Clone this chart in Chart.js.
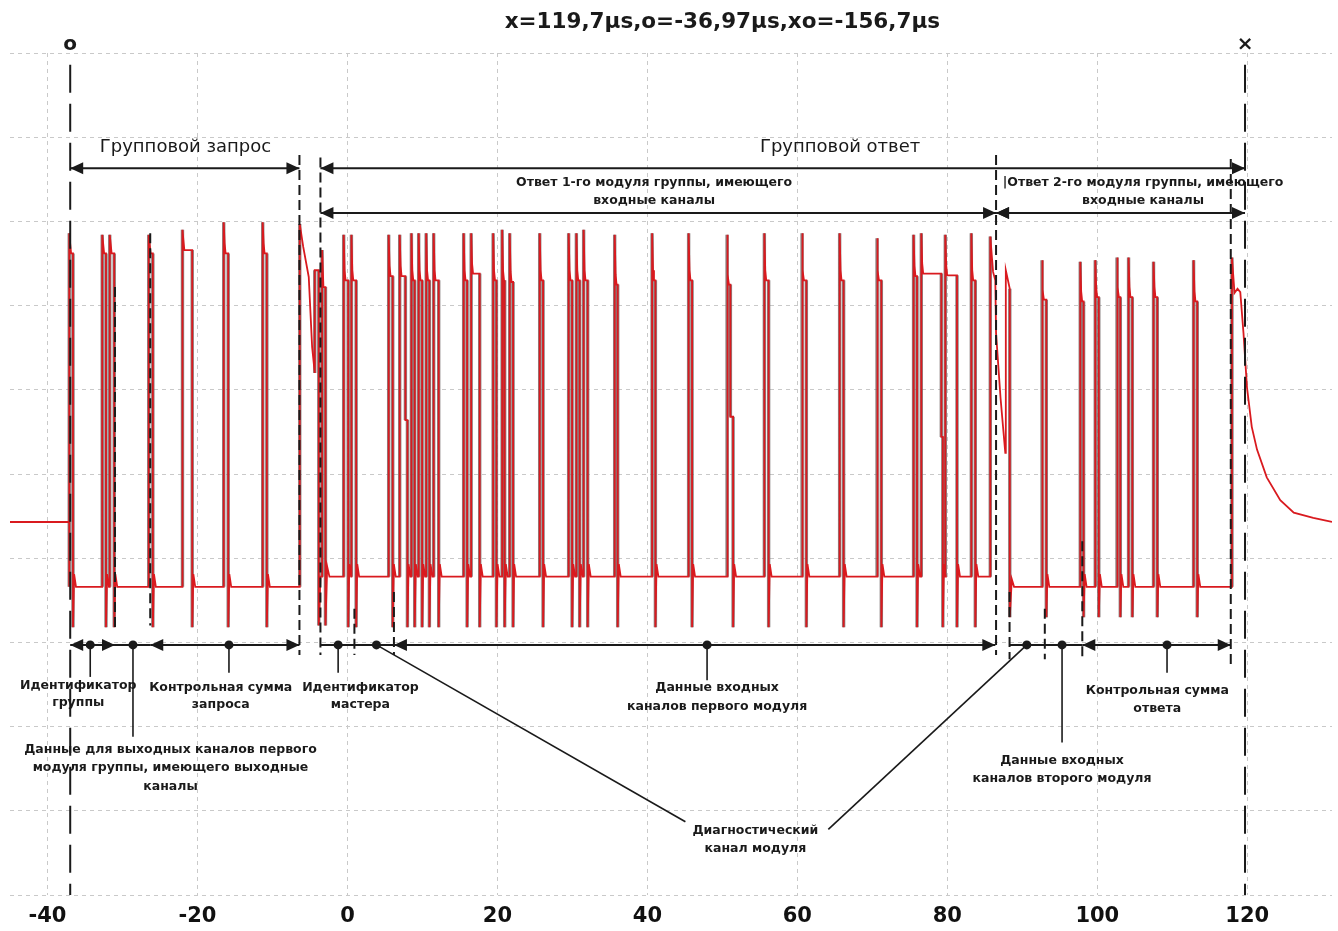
<!DOCTYPE html>
<html>
<head>
<meta charset="utf-8">
<script src="https://cdn.jsdelivr.net/npm/chart.js@4.4.1/dist/chart.umd.min.js"></script>
<style>
  html, body { margin: 0; padding: 0; background: #fff; }
  #wrap { width: 1338px; height: 931px; }
</style>
</head>
<body>
<div id="wrap"><canvas id="scope"></canvas></div>
<script>
// time axis in µs, vertical axis in screen divisions (0..10)
const tickLabels = [-40, -20, 0, 20, 40, 60, 80, 100, 120];
const titleText = 'x=119,7µs,o=-36,97µs,xo=-156,7µs';

// idle line before the request
const idleTimes = [-45, -37.1];
const idleLevels = [4.43, 4.43];

// ordinary pulses: rise / fall time, first peak, settled top
const riseTimes = [-37.1, -32.7, -31.7, -26.5, -22.0, -16.5, -11.3,
  -0.5, 0.53, 5.5, 6.97, 8.53, 9.5, 10.5, 11.5, 15.5, 16.5, 19.43, 20.63, 21.64,
  25.64, 29.5, 30.53, 31.5, 35.64, 40.63, 45.5, 50.63, 55.6, 60.63, 65.64, 70.63,
  75.5, 76.53, 79.73, 83.2,
  92.63, 97.73, 99.73, 102.63, 104.17, 107.5, 112.84];
const fallTimes = [-36.6, -32.2, -31.1, -25.95, -20.7, -15.9, -10.75,
  0.1, 1.16, 6.04, 7.73, 8.97, 9.96, 10.93, 12.17, 15.96, 17.64, 19.87, 20.97, 22.09,
  26.09, 29.96, 30.97, 32.04, 36.04, 41.07, 45.96, 51.07, 56.17, 61.2, 66.17, 71.2,
  75.96, 79.2, 81.29, 83.73,
  93.2, 98.17, 100.2, 103.07, 104.67, 108.0, 113.33];
const peakLevels = [7.86, 7.84, 7.84, 7.84, 7.9, 7.99, 7.99,
  7.84, 7.84, 7.84, 7.84, 7.86, 7.86, 7.86, 7.86, 7.86, 7.86, 7.86, 7.9, 7.86,
  7.86, 7.86, 7.86, 7.9, 7.84, 7.86, 7.86, 7.84, 7.86, 7.86, 7.86, 7.8,
  7.84, 7.86, 7.84, 7.86,
  7.54, 7.52, 7.54, 7.57, 7.57, 7.52, 7.54];
const topLevels = [7.62, 7.62, 7.62, 7.62, 7.66, 7.62, 7.62,
  7.3, 7.3, 7.35, 7.35, 7.3, 7.3, 7.3, 7.3, 7.3, 7.38, 7.3, 7.3, 7.28,
  7.3, 7.3, 7.3, 7.3, 7.25, 7.3, 7.3, 7.25, 7.3, 7.3, 7.3, 7.3,
  7.35, 7.38, 7.36, 7.3,
  7.07, 7.05, 7.1, 7.1, 7.1, 7.1, 7.05];

// pulses that fall in two steps
const stepRise = [6.97, 50.63, 76.53];
const stepLevel = [5.64, 5.68, 5.44];
const stepEnd = [8.0, 51.43, 79.4];

// low level and undershoot of each part: request, reply 1, reply 2
const sectionEnd = [-6.4, 86.5, 131.3];
const sectionLow = [3.66, 3.78, 3.66];
const sectionDip = [3.18, 3.18, 3.30];

// bus turnaround after the request
const turnTimes = [-6.36, -6.36, -5.9, -5.16, -4.71, -4.36, -4.36, -3.82, -3.82, -3.6, -3.38, -3.38, -3.2, -2.93, -2.93, -2.7, -2.4];
const turnLevels = [3.66, 7.97, 7.7, 7.34, 6.51, 6.2, 7.42, 7.42, 3.2, 3.78, 3.78, 7.66, 7.22, 7.22, 3.2, 3.9, 3.78];

// end of reply 1 / start of reply 2
const handoverTimes = [85.73, 85.73, 86.1, 86.4, 86.5, 87.1, 87.73, 87.8, 88.33, 88.33, 88.6, 88.9];
const handoverLevels = [3.78, 7.82, 7.4, 7.3, 6.67, 5.9, 5.25, 7.42, 7.2, 3.3, 3.75, 3.66];

// last pulse and release of the line
const tailTimes = [117.96, 117.96, 118.3, 118.7, 119.07, 119.5, 119.96, 120.6, 121.3, 122.6, 124.4, 126.2, 128.8, 131.3];
const tailLevels = [3.66, 7.57, 7.15, 7.2, 7.16, 6.67, 6.03, 5.56, 5.29, 4.96, 4.69, 4.54, 4.48, 4.43];

function zip(ts, vs) { return ts.map((t, i) => ({ x: t, y: vs[i] })); }
function sectionOf(t) { let s = 0; while (s < sectionEnd.length - 1 && t > sectionEnd[s]) s++; return s; }

function buildTrace() {
  const events = [];
  events.push({ t: idleTimes[0], pts: zip(idleTimes, idleLevels) });
  riseTimes.forEach((r, i) => {
    const f = fallTimes[i];
    const s = sectionOf(r);
    const low = sectionLow[s], dip = sectionDip[s];
    const pts = [
      { x: r, y: low }, { x: r, y: peakLevels[i] },
      { x: r + 0.12, y: topLevels[i] + 0.12 }, { x: r + 0.25, y: topLevels[i] },
      { x: f, y: topLevels[i] }
    ];
    let end = f;
    const k = stepRise.indexOf(r);
    if (k >= 0) {
      pts.push({ x: f, y: stepLevel[k] }, { x: stepEnd[k], y: stepLevel[k] });
      end = stepEnd[k];
    }
    pts.push({ x: end, y: dip }, { x: end + 0.15, y: low + 0.15 }, { x: end + 0.4, y: low });
    events.push({ t: r, pts });
  });
  events.push({ t: turnTimes[0], pts: zip(turnTimes, turnLevels) });
  events.push({ t: handoverTimes[0], pts: zip(handoverTimes, handoverLevels) });
  events.push({ t: tailTimes[0], pts: zip(tailTimes, tailLevels) });
  events.sort((a, b) => a.t - b.t);
  return events.flatMap(e => e.pts);
}

const trace = buildTrace();
const FONT = "'DejaVu Sans', sans-serif";
const INK = '#1a1a1a';
const isEdge = c => c.p0.parsed.x === c.p1.parsed.x;

const annotations = {
  id: 'annotations',
  afterDatasetsDraw(chart) {
    const { ctx, scales: { x, y } } = chart;
    const X = t => x.getPixelForValue(t);
    const Y = v => y.getPixelForValue(v);

    function line(x1, y1, x2, y2, w, dash) {
      ctx.save();
      ctx.strokeStyle = INK; ctx.lineWidth = w; ctx.setLineDash(dash || []);
      ctx.beginPath(); ctx.moveTo(x1, y1); ctx.lineTo(x2, y2); ctx.stroke();
      ctx.restore();
    }
    function head(px, py, dir) {
      ctx.save(); ctx.fillStyle = INK; ctx.beginPath();
      ctx.moveTo(px, py); ctx.lineTo(px - dir * 13, py - 6); ctx.lineTo(px - dir * 13, py + 6);
      ctx.closePath(); ctx.fill(); ctx.restore();
    }
    function dot(px, py) {
      ctx.save(); ctx.fillStyle = INK; ctx.beginPath(); ctx.arc(px, py, 4.5, 0, Math.PI * 2); ctx.fill(); ctx.restore();
    }
    function text(str, px, py, font, align) {
      ctx.save(); ctx.fillStyle = INK; ctx.font = font; ctx.textAlign = align || 'center'; ctx.textBaseline = 'middle';
      ctx.fillText(str, px, py); ctx.restore();
    }
    function span(t1, t2, v, arrows) {
      const py = Y(v);
      line(X(t1), py, X(t2), py, 2);
      if (arrows) { head(X(t1), py, -1); head(X(t2), py, 1); }
    }

    // title
    text(titleText, X(50), 22, "bold 21.5px " + FONT);

    // cursors
    [[-36.97, 'o'], [119.7, '×']].forEach(([t, m]) => {
      line(X(t), Y(9.86), X(t), Y(0), 2, [28, 11]);
      text(m, X(t), 45, "bold 20px " + FONT);
    });

    // section borders
    [[-6.4, 8.79, 2.85], [-3.6, 8.76, 2.85], [86.5, 8.79, 2.85], [117.8, 8.74, 2.73],
     [-31.0, 7.22, 3.15], [-26.3, 7.86, 3.2], [0.93, 3.4, 2.85], [6.2, 3.6, 2.85],
     [88.3, 3.6, 2.8], [93.0, 3.4, 2.8], [98.0, 4.2, 2.8]]
      .forEach(([t, v1, v2]) => line(X(t), Y(v1), X(t), Y(v2), 2, [10, 5]));

    // upper spans
    const big = "18px " + FONT, small = "bold 12.5px " + FONT;
    span(-36.97, -6.4, 8.63, true);
    text('Групповой запрос', X(-21.6), Y(8.88), big);
    span(-3.6, 119.7, 8.63, true);
    text('Групповой ответ', X(65.7), Y(8.88), big);
    span(-3.6, 86.5, 8.10, true);
    text('Ответ 1-го модуля группы, имеющего', X(40.9), Y(8.46), small);
    text('входные каналы', X(40.9), Y(8.24), small);
    span(86.5, 119.7, 8.10, true);
    head(X(86.5), Y(8.10), -1);
    text('|Ответ 2-го модуля группы, имеющего', X(106.1), Y(8.46), small);
    text('входные каналы', X(106.1), Y(8.24), small);

    // lower field map
    const fv = 2.97;
    span(-36.97, -31.0, fv, true);
    span(-31.0, -26.3, fv, false);
    span(-26.3, -6.4, fv, true);
    span(-3.6, 6.2, fv, false);
    span(6.2, 86.4, fv, true);
    span(88.3, 98.0, fv, false);
    span(98.0, 117.8, fv, true);

    const dots = [
      { t: -34.3, to: [-34.3, 2.59], lines: ['Идентификатор', 'группы'], lt: -35.9, lv: [2.48, 2.28] },
      { t: -28.6, to: [-28.6, 1.88], lines: ['Данные для выходных каналов первого', 'модуля группы, имеющего выходные', 'каналы'], lt: -23.6, lv: [1.72, 1.51, 1.29] },
      { t: -15.8, to: [-15.8, 2.64], lines: ['Контрольная сумма', 'запроса'], lt: -16.9, lv: [2.46, 2.26] },
      { t: -1.24, to: [-1.24, 2.64], lines: ['Идентификатор', 'мастера'], lt: 1.73, lv: [2.46, 2.26] },
      { t: 3.87, to: [45.07, 0.87], lines: [], lt: 0, lv: [] },
      { t: 47.96, to: [47.96, 2.55], lines: ['Данные входных', 'каналов первого модуля'], lt: 49.3, lv: [2.46, 2.24] },
      { t: 90.6, to: [64.13, 0.78], lines: [], lt: 0, lv: [] },
      { t: 95.3, to: [95.3, 1.81], lines: ['Данные входных', 'каналов второго модуля'], lt: 95.3, lv: [1.59, 1.38] },
      { t: 109.3, to: [109.3, 2.64], lines: ['Контрольная сумма', 'ответа'], lt: 108.0, lv: [2.42, 2.21] }
    ];
    dots.forEach(d => {
      line(X(d.t), Y(fv), X(d.to[0]), Y(d.to[1]), 1.6);
      dot(X(d.t), Y(fv));
      d.lines.forEach((s, i) => text(s, X(d.lt), Y(d.lv[i]), small));
    });
    text('Диагностический', X(54.4), Y(0.76), small);
    text('канал модуля', X(54.4), Y(0.55), small);
  }
};

new Chart(document.getElementById('scope'), {
  type: 'line',
  data: {
    datasets: [{
      // red trace on top
      data: trace,
      borderColor: '#d91a1f',
      borderWidth: 1.8,
      pointRadius: 0,
      tension: 0,
      fill: false,
      order: 1
    }, {
      // dark outline of the steep edges, drawn underneath
      data: trace,
      borderColor: 'rgba(0,0,0,0)',
      borderWidth: 3.4,
      segment: { borderColor: c => isEdge(c) ? 'rgba(120,110,110,0.85)' : 'rgba(0,0,0,0)' },
      pointRadius: 0,
      tension: 0,
      fill: false,
      order: 2
    }]
  },
  options: {
    responsive: true,
    maintainAspectRatio: false,
    animation: false,
    parsing: false,
    layout: { padding: { top: 53, bottom: 2, left: 10, right: 6 } },
    plugins: { legend: { display: false }, tooltip: { enabled: false } },
    scales: {
      x: {
        type: 'linear',
        min: -45,
        max: 131.3,
        afterBuildTicks: axis => { axis.ticks = tickLabels.map(v => ({ value: v })); },
        afterFit: axis => { axis.height = 34; },
        grid: { color: '#c9c9c9', lineWidth: 1, drawTicks: false },
        border: { display: false, dash: [4, 4] },
        ticks: { color: '#111', font: { family: FONT, size: 21, weight: 'bold' }, padding: 9, maxRotation: 0 }
      },
      y: {
        min: 0,
        max: 10,
        ticks: { display: false, stepSize: 1 },
        grid: { color: '#c9c9c9', lineWidth: 1, drawTicks: false },
        border: { display: false, dash: [4, 4] }
      }
    }
  },
  plugins: [annotations]
});
</script>
</body>
</html>
